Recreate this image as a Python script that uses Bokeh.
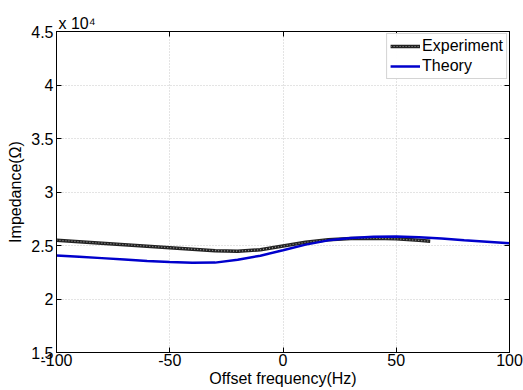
from bokeh.plotting import figure
from bokeh.models import FixedTicker, LinearAxis, Title, Legend, LegendItem, Range1d
from bokeh.embed import file_html
from bokeh.resources import INLINE

# Data (impedance in ohms)
exp_freq = [-100, -90, -80, -70, -60, -50, -40, -30, -20, -10, 0, 10, 20, 30, 40, 50, 60, 65]
exp_imp = [25500, 25360, 25220, 25080, 24940, 24800, 24660, 24520, 24470, 24600, 24950, 25300,
           25530, 25650, 25680, 25620, 25480, 25400]
th_freq = [-100, -90, -80, -70, -60, -50, -40, -30, -20, -10, 0, 10, 20, 30, 40, 50, 60, 70, 80, 90, 100]
th_imp = [24060, 23940, 23820, 23700, 23560, 23450, 23380, 23400, 23660, 24050, 24550, 25080,
          25480, 25700, 25810, 25840, 25780, 25650, 25500, 25360, 25210]
x_ticks = [-100, -50, 0, 50, 100]
x_tick_labels = ["-100", "-50", "0", "50", "100"]
y_ticks = [15000, 20000, 25000, 30000, 35000, 40000, 45000]
y_tick_labels = ["1.5", "2", "2.5", "3", "3.5", "4", "4.5"]

FONT = "Liberation Sans"
FS = "16px"

p = figure(width=523, height=390, output_backend="svg", toolbar_location=None,
           x_range=Range1d(-100, 100), y_range=Range1d(15000, 45000),
           min_border_left=56, min_border_right=14, min_border_top=31, min_border_bottom=38)
p.background_fill_color = "white"
p.border_fill_color = "white"
p.outline_line_color = "black"
p.outline_line_width = 1

p.xaxis.ticker = FixedTicker(ticks=x_ticks)
p.yaxis.ticker = FixedTicker(ticks=y_ticks)
p.xaxis.major_label_overrides = {t: l for t, l in zip(x_ticks, x_tick_labels)}
p.yaxis.major_label_overrides = {t: l for t, l in zip(y_ticks, y_tick_labels)}
for ax in [p.xaxis, p.yaxis]:
    ax.major_tick_in = 5
    ax.major_tick_out = 0
    ax.minor_tick_in = 0
    ax.minor_tick_out = 0
    ax.axis_line_color = "black"
    ax.major_label_text_font = FONT
    ax.major_label_text_font_size = FS
    ax.major_label_text_color = "black"
    ax.axis_label_text_font = FONT
    ax.axis_label_text_font_size = FS
    ax.axis_label_text_font_style = "normal"
    ax.axis_label_text_color = "black"
p.xaxis.major_label_standoff = 1
p.yaxis.major_label_standoff = 3
p.xaxis.axis_label = "Offset frequency(Hz)"
p.yaxis.axis_label = "Impedance(Ω)"
p.xaxis.axis_label_standoff = 1
p.yaxis.axis_label_standoff = 4

ax_r = LinearAxis(ticker=FixedTicker(ticks=y_ticks),
                  major_label_overrides={t: "" for t in y_ticks},
                  major_tick_in=5, major_tick_out=0, minor_tick_in=0, minor_tick_out=0)
ax_t = LinearAxis(ticker=FixedTicker(ticks=x_ticks),
                  major_label_overrides={t: "" for t in x_ticks},
                  major_tick_in=5, major_tick_out=0, minor_tick_in=0, minor_tick_out=0)
p.add_layout(ax_r, "right")
p.add_layout(ax_t, "above")

p.add_layout(Title(text="x 10⁴", align="left", text_font=FONT, text_font_size=FS,
                   text_font_style="normal", text_color="black", offset=2, standoff=0), "above")

p.grid.grid_line_color = "#c8c8c8"
p.grid.grid_line_dash = "1 2"
p.grid.grid_line_width = 1

r_exp = p.line(exp_freq, exp_imp, line_color="#222222", line_width=3.5)
r_exp2 = p.line(exp_freq, exp_imp, line_color="#9a9a9a", line_width=1.2, line_dash="1 2")
r_th = p.line(th_freq, th_imp, line_color="#0000cc", line_width=2.5)

legend = Legend(items=[LegendItem(label="Experiment", renderers=[r_exp, r_exp2]),
                       LegendItem(label="Theory", renderers=[r_th])],
                location="top_right", label_text_font=FONT, label_text_font_size=FS,
                label_text_color="black", border_line_color="#aaaaaa", border_line_width=1,
                glyph_width=30, glyph_height=16, label_standoff=2, padding=3, spacing=2,
                margin=2, label_height=18)
p.add_layout(legend)

open("out.html", "w").write(file_html(p, INLINE))
